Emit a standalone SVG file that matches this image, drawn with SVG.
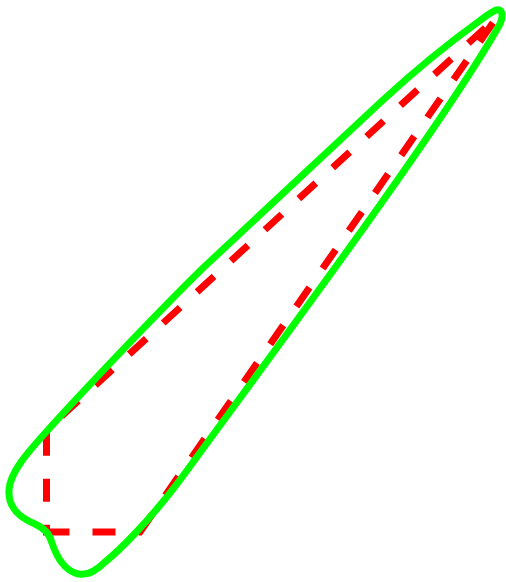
<svg xmlns="http://www.w3.org/2000/svg" width="506" height="582" viewBox="0 0 506 582">
<style>
.box{fill:none;stroke:#ff0000;stroke-width:7;stroke-dasharray:23 23;stroke-linejoin:miter;stroke-miterlimit:10}
.blade{fill:none;stroke:#00ff00;stroke-width:7;stroke-linejoin:round}
</style>
<rect width="506" height="582" fill="#ffffff"/>
<g id="polygon">
<path class="box" d="M 46.5,532 L 140,532 L 497,17 L 46.5,430 Z"/>
</g>
<g id="outline">
<path class="blade" d="M 496,10 C 502,8 504,15 500,24 C 440,130 260,370 180,480 C 150,520 120,550 105,562 C 95,572 85,577 75,573 C 62,568 56,555 52,543 C 49,533 45,529 35,524 C 18,517 8,507 9,490 C 10,472 28,452 47,431 C 73,402 150,320 203,268 C 270,205 330,150 383,100 C 420,66 460,35 478,22 C 486,16 491,12 496,10 Z"/>
</g>
</svg>
